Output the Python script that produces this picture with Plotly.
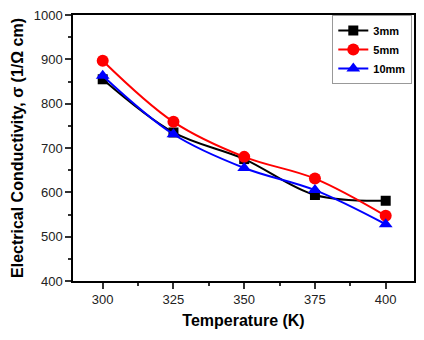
import plotly.graph_objects as go

# Temperature (K)
temperature = [300, 325, 350, 375, 400]

# Electrical conductivity (1/Ohm cm) per sample thickness
sigma_3mm = [855, 735, 675, 594, 581]
sigma_5mm = [897, 759, 680, 631, 547]
sigma_10mm = [863, 731, 655, 605, 528]

series = [
    ("3mm", sigma_3mm, "black", "square", 10),
    ("5mm", sigma_5mm, "red", "circle", 12),
    ("10mm", sigma_10mm, "blue", "triangle-up", 12),
]

fig = go.Figure()
for name, values, color, symbol, msize in series:
    fig.add_trace(go.Scatter(
        x=temperature, y=values, name=name, mode="lines+markers",
        line=dict(color=color, width=2, shape="spline"),
        marker=dict(color=color, symbol=symbol, size=msize),
    ))

font_family = "Liberation Sans, Arial"

axis_common = dict(
    showgrid=False, zeroline=False, showline=True, linecolor="black", linewidth=1.5,
    mirror=True, ticks="outside", ticklen=6, tickwidth=1.5, tickcolor="#333",
    tickfont=dict(family=font_family, size=13, color="#222"),
)

fig.update_layout(
    width=424, height=340,
    margin=dict(l=73, r=8, t=10, b=59),
    paper_bgcolor="white", plot_bgcolor="white",
    xaxis=dict(
        range=[289.5, 410], tick0=300, dtick=25,
        minor=dict(ticks="outside", ticklen=3, dtick=12.5, tick0=300, tickcolor="#333"),
        title=dict(text="Temperature (K)", standoff=8,
                   font=dict(family=font_family, size=16, color="black", weight="bold")),
        **axis_common,
    ),
    yaxis=dict(
        range=[400, 1000], tick0=400, dtick=100,
        minor=dict(ticks="outside", ticklen=3, dtick=50, tick0=400, tickcolor="#333"),
        title=dict(text="Electrical Conductivity, σ (1/Ω cm)", standoff=6,
                   font=dict(family=font_family, size=16, color="black", weight="bold")),
        **axis_common,
    ),
    legend=dict(
        x=0.995, y=1.0, xanchor="right", yanchor="top",
        bgcolor="white", bordercolor="#999", borderwidth=1,
        font=dict(family=font_family, size=11, color="black", weight="bold"),
        itemwidth=30, tracegroupgap=0,
    ),
    showlegend=True,
)

fig.write_html("out.html")
